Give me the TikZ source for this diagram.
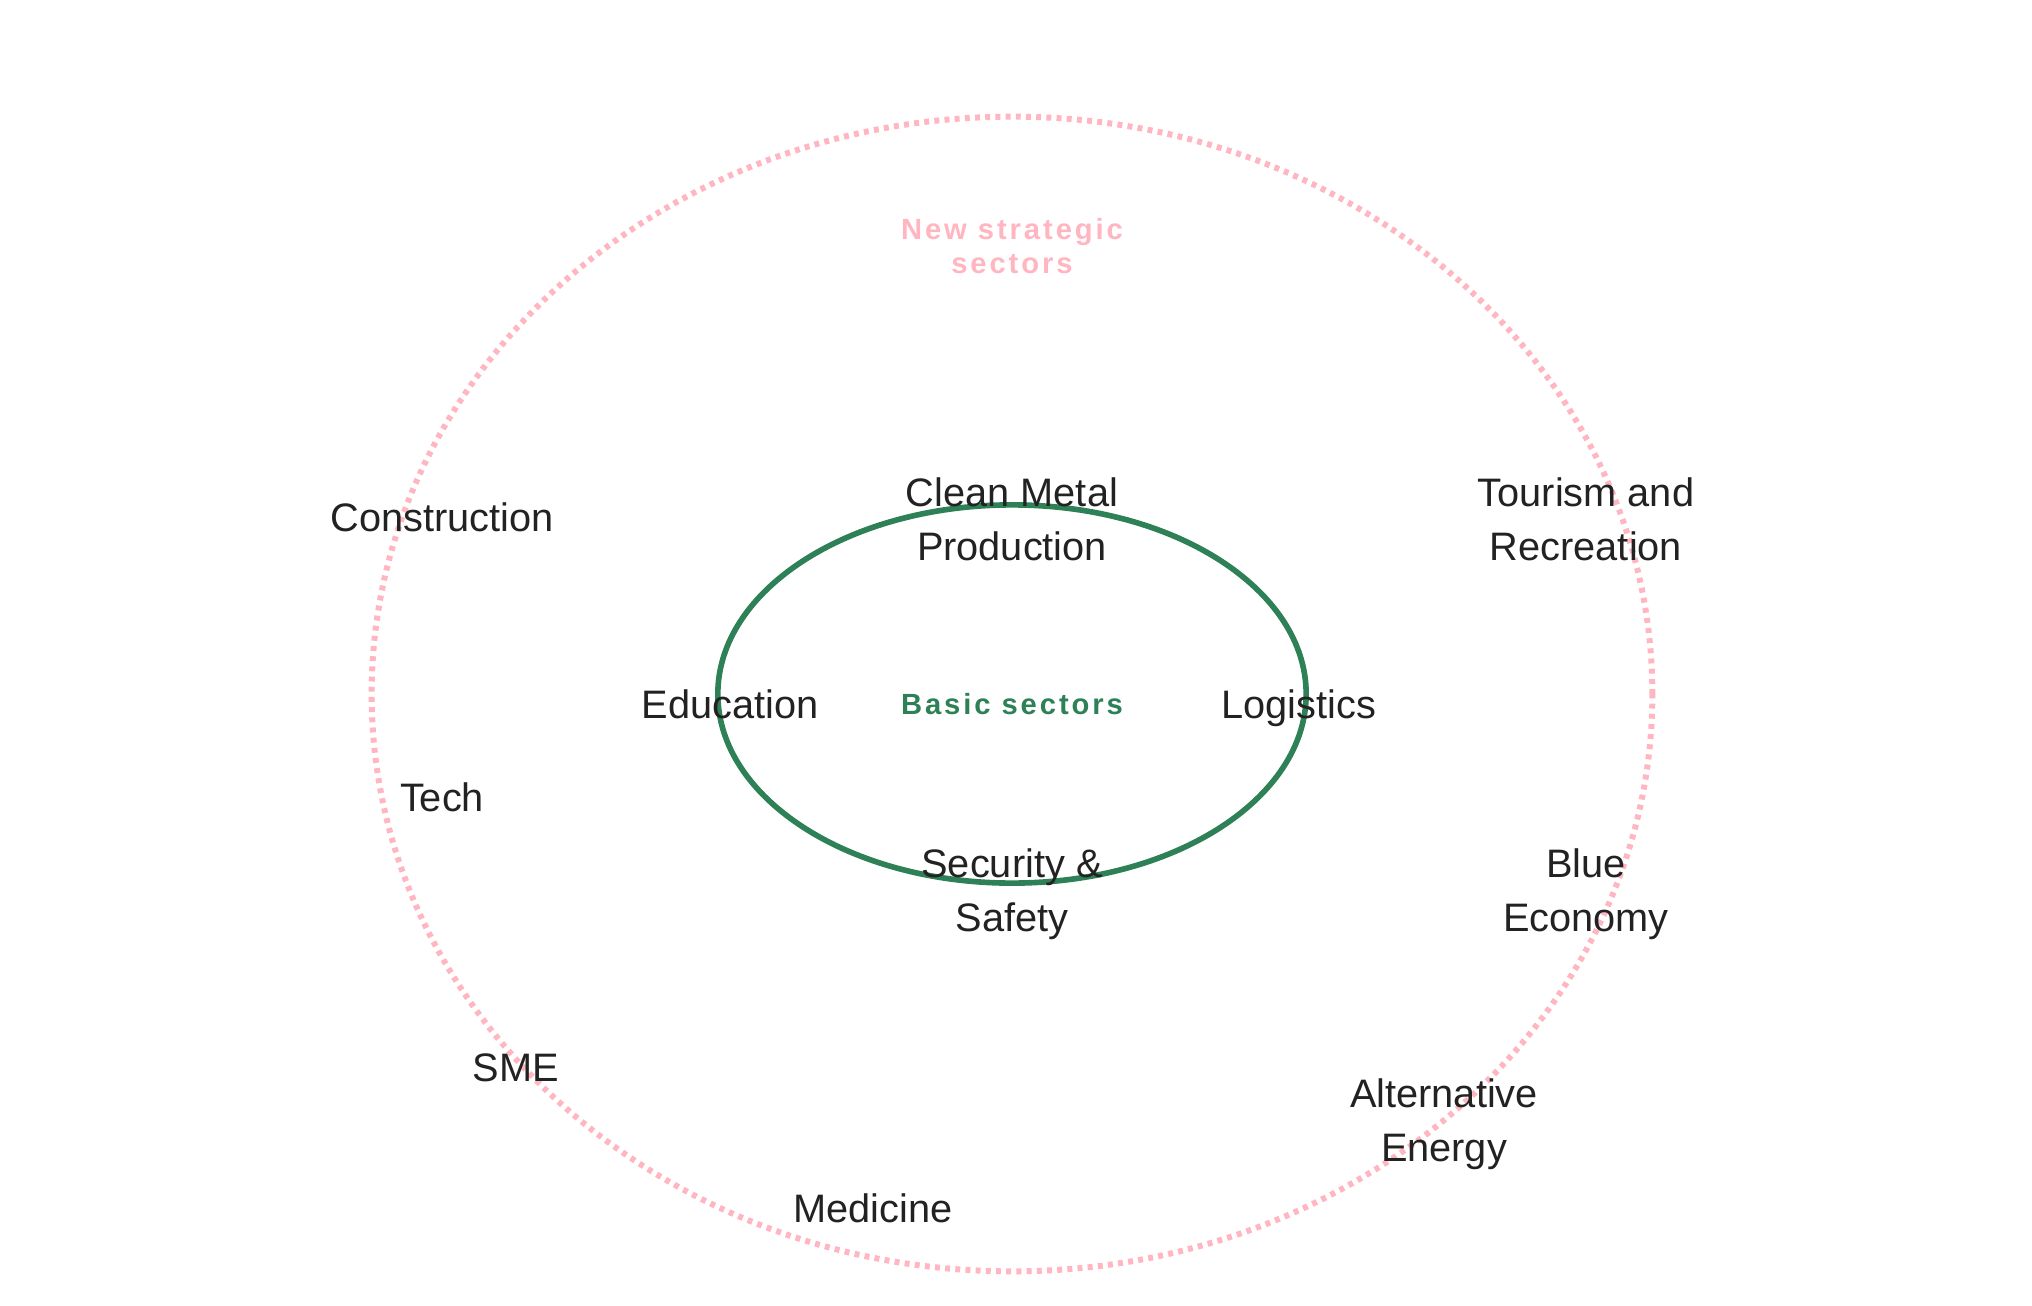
\documentclass[tikz,border=0pt]{standalone}
\usepackage{fontspec}
\setmainfont{Liberation Sans}
\newfontfamily\spacedfont[LetterSpace=10]{Liberation Sans}
\usetikzlibrary{positioning}
\definecolor{coregreen}{RGB}{46,128,86}
\definecolor{ringpink}{RGB}{255,182,193}
\definecolor{labelgray}{RGB}{34,34,34}
\begin{document}
\begin{tikzpicture}[x=0.01cm,y=-0.01cm,
  sector/.style={text=labelgray,font=\fontsize{11.3}{15.4}\selectfont,align=center,inner sep=0pt},
  ringtitle/.style={font=\spacedfont\bfseries\fontsize{8.3}{9.7}\selectfont,align=center,inner sep=0pt},
  outerring/.style={draw=ringpink,line width=1.7pt,dash pattern=on 1.4pt off 1.5pt},
  innerring/.style={draw=coregreen,line width=1.6pt}]
\useasboundingbox (0,0) rectangle (2032,1306);
% rings
\coordinate (mid) at (1012,694);
\draw[outerring] (mid) ellipse [x radius=6.40cm, y radius=5.77cm];
\draw[innerring] (mid) ellipse [x radius=2.94cm, y radius=1.89cm];
% ring titles
\node[ringtitle,text=ringpink]  (newtitle)  at (1012,246) {New strategic\\sectors};
\node[ringtitle,text=coregreen] (basetitle) at (1012,704) {Basic sectors};
% basic sectors
\node[sector] (metal)     at (1012,519) {Clean Metal\\Production};
\node[sector] (education) at (730,704)  {Education};
\node[sector] (logistics) at (1299,708) {Logistics};
\node[sector] (security)  at (1012,894) {Security \&\\Safety};
% new strategic sectors
\node[sector] (construction) at (442,517)  {Construction};
\node[sector] (tech)         at (442,797)  {Tech};
\node[sector] (sme)          at (516,1068) {SME};
\node[sector] (medicine)     at (873,1208) {Medicine};
\node[sector] (energy)       at (1444,1124) {Alternative\\Energy};
\node[sector] (blue)         at (1586,894) {Blue\\Economy};
\node[sector] (tourism)      at (1586,519) {Tourism and\\Recreation};
\end{tikzpicture}
\end{document}
